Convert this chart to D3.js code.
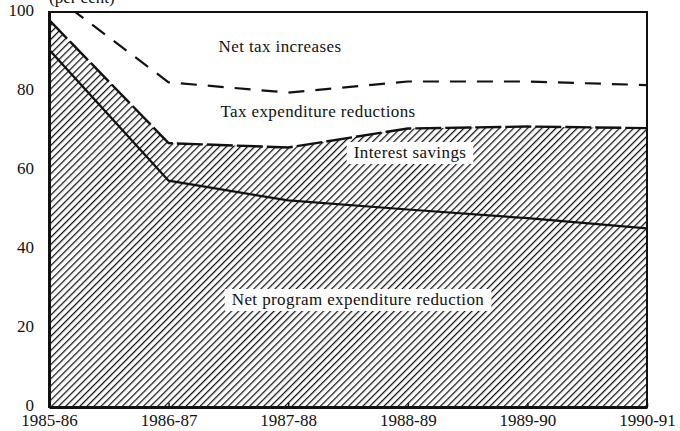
<!DOCTYPE html>
<html>
<head>
<meta charset="utf-8">
<script src="https://cdn.jsdelivr.net/npm/d3@7"></script>
<style>
  body { margin: 0; background: #fff; }
  svg text { font-family: "Liberation Serif", "Times New Roman", serif; fill: #111; }
</style>
</head>
<body>
<div id="graph-section"></div>
<script>
// data (per cent, cumulative tops of each band)
var years = ["1985-86", "1986-87", "1987-88", "1988-89", "1989-90", "1990-91"]
var netProgram = [90.5, 57.3, 52.3, 50, 47.8, 45.2]      // net program expenditure reduction
var interestTop = [98, 66.8, 65.7, 70.5, 71, 70.6]      // + interest savings
var taxExpTop = [105, 82.2, 79.6, 82.4, 82.4, 81.5]     // + tax expenditure reductions
var yTicks = [0, 20, 40, 60, 80, 100]

var serif = '"Liberation Serif", "Times New Roman", serif'
var width = 680, height = 431
var margin = {top: 12, right: 33, bottom: 24, left: 49}
var w = width - margin.left - margin.right
var h = height - margin.top - margin.bottom

var svg = d3.select("#graph-section").append("svg")
    .attr("width", width)
    .attr("height", height)

var defs = svg.append("defs")
var pat = defs.append("pattern")
    .attr("id", "hatch")
    .attr("patternUnits", "userSpaceOnUse")
    .attr("width", 5)
    .attr("height", 5)
    .attr("patternTransform", "rotate(45)")
pat.append("line")
    .attr("x1", 0).attr("y1", 0)
    .attr("x2", 0).attr("y2", 5)
    .attr("stroke", "#111")
    .attr("stroke-width", 2.5)

defs.append("clipPath").attr("id", "clip")
  .append("rect").attr("width", w).attr("height", h)

var g = svg.append("g")
    .attr("transform", "translate(" + margin.left + "," + margin.top + ")")

var xScale = d3.scalePoint().domain(years).range([0, w])
var yScale = d3.scaleLinear().domain([0, 100]).range([h, 0])

var plot = g.append("g").attr("clip-path", "url(#clip)")

// hatched area (program + interest savings)
var area = d3.area()
    .x(function(d, i) { return xScale(years[i]) })
    .y0(h)
    .y1(function(d) { return yScale(d) })
plot.append("path")
    .datum(interestTop)
    .attr("d", area)
    .attr("fill", "url(#hatch)")

var line = d3.line()
    .x(function(d, i) { return xScale(years[i]) })
    .y(function(d) { return yScale(d) })

plot.append("path")
    .datum(netProgram)
    .attr("d", line)
    .attr("fill", "none")
    .attr("stroke", "#111")
    .attr("stroke-width", 2.2)

plot.append("path")
    .datum(interestTop)
    .attr("d", line)
    .attr("fill", "none")
    .attr("stroke", "#111")
    .attr("stroke-width", 2.4)
    .attr("stroke-dasharray", "26,4")

plot.append("path")
    .datum(taxExpTop)
    .attr("d", line)
    .attr("fill", "none")
    .attr("stroke", "#111")
    .attr("stroke-width", 2.2)
    .attr("stroke-dasharray", "16,11")

// labels, some on white boxes over the hatching
function label(txt, x, y, boxed) {
    var t = g.append("text").attr("x", x).attr("y", y)
        .attr("text-anchor", "middle").style("font-size", "17px")
        .style("font-family", serif)
        .style("letter-spacing", "0.4px").text(txt)
    if (boxed) {
        var bb = t.node().getBBox()
        g.insert("rect", function() { return t.node() })
            .attr("x", bb.x - 7).attr("y", bb.y - 1)
            .attr("width", bb.width + 14).attr("height", bb.height + 3)
            .attr("fill", "#fff")
    }
}
label("Net tax increases", 231, 40, false)
label("Tax expenditure reductions", 269, 105, false)
label("Interest savings", 361, 146, true)
label("Net program expenditure reduction", 309, 293, true)

// frame
g.append("rect")
    .attr("width", w).attr("height", h)
    .attr("fill", "none").attr("stroke", "#111").attr("stroke-width", 2)

// axes
var yAxis = g.append("g")
    .call(d3.axisLeft(yScale).tickValues(yTicks).tickSize(0).tickPadding(15))
yAxis.select(".domain").attr("stroke", "#111").attr("stroke-width", 3)
yAxis.selectAll("text").style("font-size", "17px").style("font-family", serif)
    .attr("fill", "#111").attr("dy", "0.2em")

var xAxis = g.append("g")
    .attr("transform", "translate(0," + h + ")")
    .call(d3.axisBottom(xScale).tickSizeInner(-4).tickSizeOuter(0).tickPadding(7))
xAxis.select(".domain").attr("stroke", "#111").attr("stroke-width", 3)
xAxis.selectAll("line").attr("stroke", "#111").attr("stroke-width", 1.5)
xAxis.selectAll("text").style("font-size", "17px").style("font-family", serif)
    .attr("fill", "#111")

svg.append("text")
    .attr("x", 49).attr("y", 3)
    .style("font-size", "17px").style("font-family", serif)
    .text("(per cent)")
</script>
</body>
</html>
